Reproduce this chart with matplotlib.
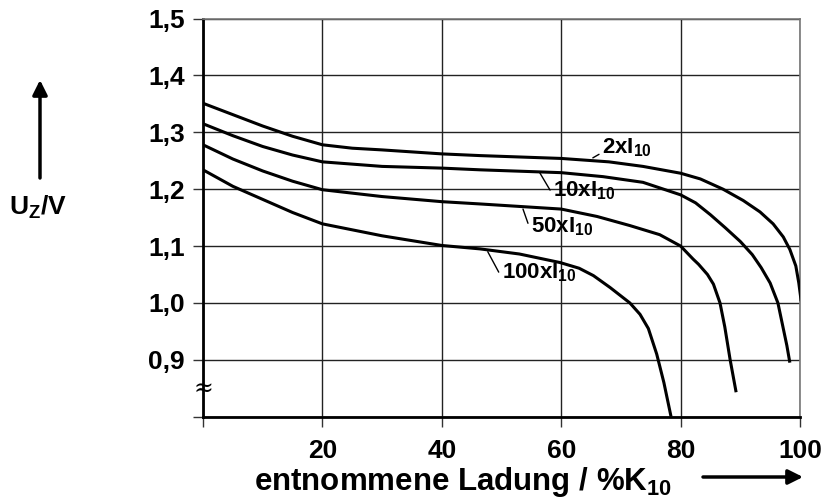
import matplotlib

matplotlib.use("Agg")
import matplotlib.pyplot as plt

# discharge curves (x in %K10, y in V)
x_2 = [0, 5, 10, 15, 20, 25, 30, 40, 46.4, 60, 68, 73.7, 80, 83.3, 87.1,
       90.5, 93.3, 95.5, 97.2, 98.3, 99.3, 99.8, 100.2]
u_2 = [1.351, 1.331, 1.311, 1.293, 1.278, 1.272, 1.269, 1.262, 1.259, 1.254,
       1.248, 1.240, 1.228, 1.218, 1.200, 1.180, 1.160, 1.139, 1.116, 1.094,
       1.065, 1.035, 1.003]

x_10 = [0, 5, 10, 15, 20, 30, 40, 46.4, 60, 67, 73.7, 80, 82.5, 85, 87.5, 90,
        92, 93.5, 95, 96.3, 97.3, 97.8, 98.3]
u_10 = [1.315, 1.294, 1.275, 1.260, 1.248, 1.240, 1.237, 1.234, 1.229, 1.222,
        1.212, 1.190, 1.176, 1.155, 1.132, 1.108, 1.085, 1.062, 1.035, 1.000,
        0.950, 0.925, 0.895]

x_50 = [0, 5, 10, 15, 20, 30, 40, 46.4, 60, 66, 71.5, 76.5, 80, 82.1, 83,
        84.5, 85.5, 86.6, 87.4, 88.3, 89.3]
u_50 = [1.278, 1.253, 1.232, 1.214, 1.199, 1.187, 1.178, 1.174, 1.165, 1.152,
        1.136, 1.120, 1.100, 1.077, 1.068, 1.050, 1.033, 1.000, 0.958, 0.900,
        0.843]

x_100 = [0, 5, 10, 15, 20, 30, 40, 46.4, 53, 59.8, 63, 65.4, 68.2, 71.5, 73.2,
         74.6, 76.0, 77.2, 78.0, 78.4]
u_100 = [1.234, 1.205, 1.182, 1.159, 1.139, 1.118, 1.101, 1.095, 1.086, 1.071,
         1.061, 1.048, 1.027, 1.000, 0.980, 0.955, 0.910, 0.860, 0.820, 0.800]

x_ticks = [0, 20, 40, 60, 80, 100]
x_ticklabels = ["", "20", "40", "60", "80", "100"]
y_ticks = [0.8, 0.9, 1.0, 1.1, 1.2, 1.3, 1.4, 1.5]
y_ticklabels = ["", "0,9", "1,0", "1,1", "1,2", "1,3", "1,4", "1,5"]

curve_labels = [r"2xI$_{10}$", r"10xI$_{10}$", r"50xI$_{10}$", r"100xI$_{10}$"]
# point on the curve the leader starts from, and where the label sits
leader_from = [(65.3, 1.255), (56.4, 1.229), (53.6, 1.165), (47.7, 1.090)]
label_at = [(66.8, 1.272), (58.6, 1.198), (54.9, 1.134), (50.0, 1.053)]

plt.rcParams["font.family"] = ["Liberation Sans", "DejaVu Sans"]
plt.rcParams["font.weight"] = "bold"
plt.rcParams["mathtext.fontset"] = "custom"
plt.rcParams["mathtext.rm"] = "Liberation Sans:bold"
plt.rcParams["mathtext.it"] = "Liberation Sans:bold"
plt.rcParams["mathtext.bf"] = "Liberation Sans:bold"

fig = plt.figure(figsize=(8.27, 5.01), dpi=100)
ax = fig.add_axes([203 / 827, 1 - 416.7 / 501, 597 / 827, 398.2 / 501])

for xs, us in ((x_2, u_2), (x_10, u_10), (x_50, u_50), (x_100, u_100)):
    ax.plot(xs, us, color="black", lw=2.2, solid_capstyle="butt",
            solid_joinstyle="round", zorder=3)

for text, xy, xytext in zip(curve_labels, leader_from, label_at):
    ax.annotate(text, xy=xy, xytext=xytext, ha="left", va="center",
                fontsize=16, fontweight="bold",
                arrowprops=dict(arrowstyle="-", lw=1.0, color="black",
                                shrinkA=0, shrinkB=0, relpos=(0, 0.3)))

ax.set_xlim(0, 100)
ax.set_ylim(0.8, 1.5)
ax.set_xticks(x_ticks)
ax.set_xticklabels(x_ticklabels)
ax.set_yticks(y_ticks)
ax.set_yticklabels(y_ticklabels)
ax.tick_params(length=7, width=1, colors="#333333", labelcolor="black",
               labelsize=19)
ax.tick_params(axis="y", pad=6)
ax.tick_params(axis="x", pad=9)
ax.grid(True, color="#222222", lw=1.0)

for side in ("left", "bottom"):
    ax.spines[side].set_linewidth(2.0)
    ax.spines[side].set_color("black")
for side in ("right", "top"):
    ax.spines[side].set_linewidth(1.2)
    ax.spines[side].set_color("#777777")

# axis break sign
ax.text(0, 0.85, "\u2248", ha="center", va="center", fontsize=17,
        family="DejaVu Serif", fontweight="normal", clip_on=False)

fig.text(38 / 827, 1 - 207 / 501, r"U$_Z$/V", ha="center", va="center",
         fontsize=19, fontweight="bold")
fig.text(463 / 827, 1 - 482 / 501, r"entnommene Ladung / %K$_{10}$",
         ha="center", va="center", fontsize=22.5, fontweight="bold")

arrow = dict(arrowstyle="-|>", lw=2.5, color="black", mutation_scale=22,
             shrinkA=0, shrinkB=0)
ax.annotate("", xy=(40, 501 - 80), xytext=(40, 501 - 178),
            xycoords="figure pixels", textcoords="figure pixels",
            arrowprops=arrow)
ax.annotate("", xy=(803, 501 - 477), xytext=(703, 501 - 477),
            xycoords="figure pixels", textcoords="figure pixels",
            arrowprops=arrow)

fig.savefig("out.png", dpi=100)
